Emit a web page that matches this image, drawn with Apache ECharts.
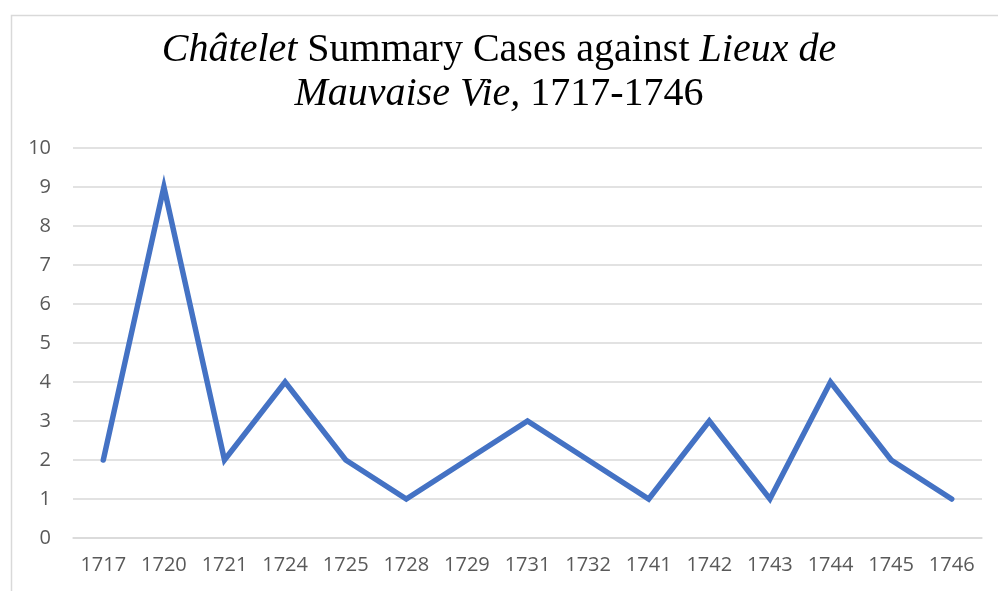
<!DOCTYPE html>
<html>
<head>
<meta charset="utf-8">
<title>Châtelet Summary Cases</title>
<script src="https://cdn.jsdelivr.net/npm/echarts@6/dist/echarts.min.js"></script>
<style>
  html, body { margin: 0; padding: 0; background: #fff; }
  #main { width: 998px; height: 591px; }
</style>
</head>
<body>
<div id="main"></div>
<script>
// years with summary cases
var years = ["1717","1720","1721","1724","1725","1728","1729","1731","1732","1741","1742","1743","1744","1745","1746"];
// number of cases per year
var cases = [2, 9, 2, 4, 2, 1, 2, 3, 2, 1, 3, 1, 4, 2, 1];
var yTicks = [0, 10, 1]; // min, max, interval

var myChart = echarts.init(document.getElementById('main'));

var option = {
    backgroundColor: '#ffffff',
    animation: false,
    title: {
        left: 'center',
        top: 23,
        text: '{i|Châtelet} Summary Cases against {i|Lieux de}\n{i|Mauvaise Vie,} 1717-1746',
        textStyle: {
            fontFamily: 'Liberation Serif',
            fontSize: 40,
            fontWeight: 'normal',
            color: '#000000',
            lineHeight: 44,
            rich: {
                i: {
                    fontFamily: 'Liberation Serif',
                    fontSize: 40,
                    fontStyle: 'italic',
                    color: '#000000',
                    lineHeight: 44
                }
            }
        }
    },
    graphic: [{
        type: 'rect',
        left: 9,
        top: 13,
        shape: { width: 1100, height: 700 },
        style: { fill: 'none', stroke: '#d9d9d9', lineWidth: 1.5 },
        silent: true
    }],
    grid: {
        left: 73,
        right: 16,
        top: 148,
        bottom: 53
    },
    xAxis: {
        type: 'category',
        data: years,
        boundaryGap: true,
        axisLine: { show: true, lineStyle: { color: '#d9d9d9', width: 1.5 } },
        axisTick: { show: false },
        axisLabel: {
            color: '#595959',
            fontFamily: 'Open Sans',
            fontSize: 20,
            margin: 17,
            interval: 0
        }
    },
    yAxis: {
        type: 'value',
        min: yTicks[0],
        max: yTicks[1],
        interval: yTicks[2],
        axisLine: { show: false },
        axisTick: { show: false },
        splitLine: { lineStyle: { color: '#d9d9d9', width: 1.5 } },
        axisLabel: {
            color: '#595959',
            fontFamily: 'Open Sans',
            fontSize: 20,
            margin: 22
        }
    },
    series: [{
        name: 'Cases',
        type: 'line',
        data: cases,
        showSymbol: false,
        symbol: 'none',
        lineStyle: { color: '#4472C4', width: 5.5, cap: 'round', join: 'miter' },
        itemStyle: { color: '#4472C4' }
    }]
};

myChart.setOption(option);
</script>
</body>
</html>
